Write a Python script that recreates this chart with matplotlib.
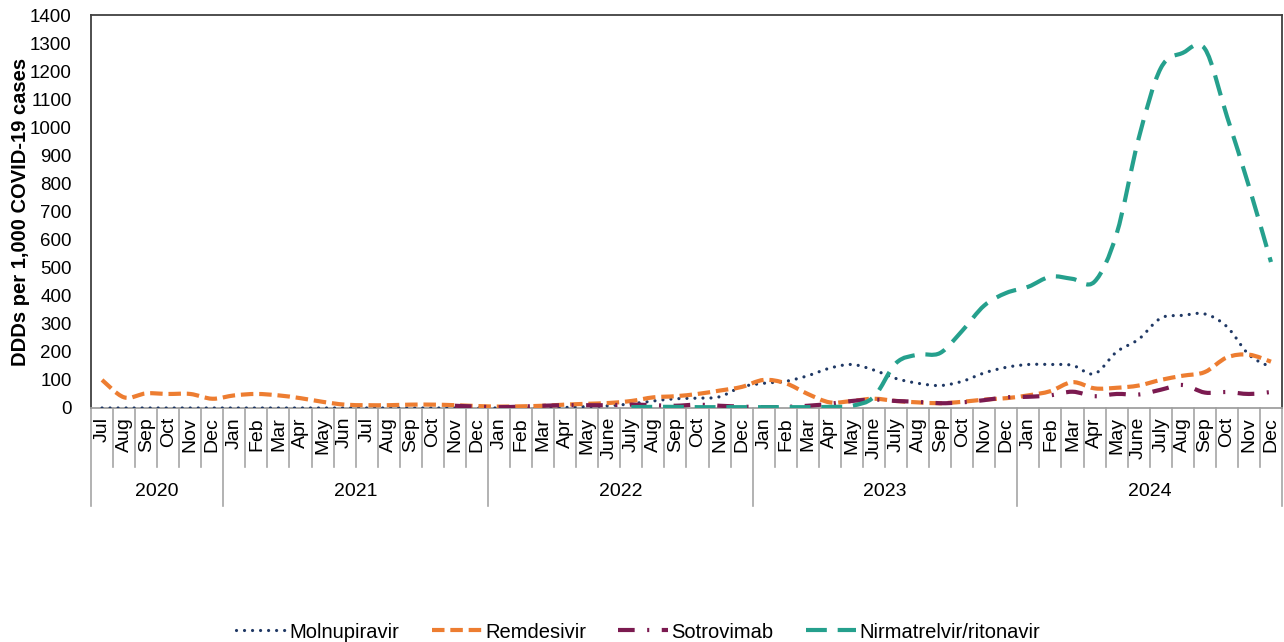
import numpy as np
import matplotlib
matplotlib.use('Agg')
import matplotlib.pyplot as plt
from matplotlib.path import Path
from matplotlib.patches import PathPatch
from matplotlib.lines import Line2D
import matplotlib.transforms as mtransforms

plt.rcParams['font.family'] = ['Liberation Sans', 'DejaVu Sans']

nan = np.nan

months = (['Jul', 'Aug', 'Sep', 'Oct', 'Nov', 'Dec'] +
          ['Jan', 'Feb', 'Mar', 'Apr', 'May', 'Jun', 'Jul', 'Aug', 'Sep', 'Oct', 'Nov', 'Dec'] +
          ['Jan', 'Feb', 'Mar', 'Apr', 'May', 'June', 'July', 'Aug', 'Sep', 'Oct', 'Nov', 'Dec'] +
          ['Jan', 'Feb', 'Mar', 'Apr', 'May', 'June', 'July', 'Aug', 'Sep', 'Oct', 'Nov', 'Dec'] +
          ['Jan', 'Feb', 'Mar', 'Apr', 'May', 'June', 'July', 'Aug', 'Sep', 'Oct', 'Nov', 'Dec'])
years = ['2020', '2021', '2022', '2023', '2024']
months_per_year = [6, 12, 12, 12, 12]

molnupiravir = ([0, 0, 0, 0, 0, 0] +
                [0, 0, 0, 0, 0, 0, 0, 0, 0, 0, 0, 0] +
                [0, 0, 0, 2, 5, 8, 15, 25, 33, 35, 40, 75] +
                [88, 95, 115, 142, 155, 135, 105, 88, 80, 95, 125, 145] +
                [155, 155, 152, 122, 200, 245, 320, 330, 335, 290, 190, 145])
remdesivir = ([100, 38, 52, 50, 50, 33] +
              [45, 50, 45, 35, 22, 12, 10, 10, 12, 12, 10, 7] +
              [5, 6, 8, 12, 15, 18, 25, 38, 42, 50, 62, 75] +
              [100, 88, 50, 20, 25, 33, 25, 20, 17, 22, 30, 35] +
              [45, 60, 92, 70, 72, 80, 100, 115, 128, 180, 190, 165])
sotrovimab = ([nan, nan, nan, nan, nan, nan] +
              [nan, nan, nan, nan, nan, nan, nan, nan, nan, nan, 8, 5] +
              [3, 5, 8, 10, 10, 10, 12, 10, 8, 12, 8, 5] +
              [3, 4, 8, 15, 25, 30, 25, 22, 17, 20, 28, 38] +
              [40, 45, 58, 42, 50, 48, 65, 82, 55, 57, 50, 57])
nirmatrelvir = ([nan, nan, nan, nan, nan, nan] +
                [nan] * 12 +
                [nan, nan, nan, nan, nan, nan, 3, 4, 4, 3, 3, 3] +
                [3, 3, 3, 4, 8, 40, 160, 190, 196, 275, 365, 410] +
                [432, 468, 460, 450, 620, 960, 1210, 1265, 1280, 1040, 790, 520])

series_names = ['Molnupiravir', 'Remdesivir', 'Sotrovimab', 'Nirmatrelvir/ritonavir']
series_values = [molnupiravir, remdesivir, sotrovimab, nirmatrelvir]
styles = [
    dict(color='#1F3864', lw=2.3, ls=(0, (0.01, 2.5)), cap='round'),
    dict(color='#ED7D31', lw=3.0, ls=(0, (3.0, 1.4)), cap='butt'),
    dict(color='#7B1A50', lw=3.0, ls=(0, (4.0, 3.0, 0.5, 3.0)), cap='butt'),
    dict(color='#25A08D', lw=3.0, ls=(0, (5.0, 2.6)), cap='butt'),
]

W, H = 1284, 642
fig = plt.figure(figsize=(W / 100, H / 100), dpi=100)
ax_left, ax_right, ax_top, ax_bot = 91, 1282, 15, 408
ax = fig.add_axes([ax_left / W, 1 - ax_bot / H, (ax_right - ax_left) / W, (ax_bot - ax_top) / H])
ax_h = ax_bot - ax_top

x = np.arange(len(months))


def smooth_path(xs, ys):
    verts = [(xs[0], ys[0])]
    codes = [Path.MOVETO]
    n = len(xs)
    for k in range(n - 1):
        p0 = k - 1 if k > 0 else k
        p3 = k + 2 if k + 2 < n else k + 1
        c1 = (xs[k] + (xs[k + 1] - xs[p0]) / 6.0, ys[k] + (ys[k + 1] - ys[p0]) / 6.0)
        c2 = (xs[k + 1] - (xs[p3] - xs[k]) / 6.0, ys[k + 1] - (ys[p3] - ys[k]) / 6.0)
        verts += [c1, c2, (xs[k + 1], ys[k + 1])]
        codes += [Path.CURVE4] * 3
    return Path(verts, codes)


handles = []
for name, vals, st in zip(series_names, series_values, styles):
    v = np.array(vals, dtype=float)
    valid = ~np.isnan(v)
    idx = np.where(valid)[0]
    runs = np.split(idx, np.where(np.diff(idx) != 1)[0] + 1)
    for r in runs:
        if len(r) < 2:
            continue
        p = smooth_path(x[r].astype(float), v[r])
        patch = PathPatch(p, fill=False, edgecolor=st['color'], lw=st['lw'],
                          linestyle=st['ls'], capstyle=st['cap'], joinstyle='round', zorder=3)
        ax.add_patch(patch)
    handles.append(Line2D([], [], color=st['color'], lw=st['lw'], linestyle=st['ls'],
                          dash_capstyle=st['cap']))

ax.set_xlim(-0.5, len(months) - 0.5)
ax.set_ylim(0, 1400)
ax.set_yticks(np.arange(0, 1401, 100))
ax.tick_params(axis='y', length=0, pad=14, labelsize=13.5)
ax.set_xticks([])
for s in ['left', 'top', 'right']:
    ax.spines[s].set_color('#404040')
    ax.spines[s].set_linewidth(1.3)
ax.spines['bottom'].set_color('#A0A0A0')
ax.spines['bottom'].set_linewidth(1.3)

ax.set_ylabel('DDDs per 1,000 COVID-19 cases', fontsize=14.5, fontweight='bold')
ax.yaxis.set_label_coords((30 - ax_left) / (ax_right - ax_left), 0.5)

trans = mtransforms.blended_transform_factory(ax.transData, ax.transAxes)
for i, m in enumerate(months):
    ax.text(i, -9 / ax_h, m, rotation=90, ha='center', va='top', fontsize=14,
            transform=trans, color='#000000')

year_bounds = np.concatenate([[0], np.cumsum(months_per_year)])
for b in range(len(months) + 1):
    depth = 98 if b in year_bounds else 59
    ax.plot([b - 0.5, b - 0.5], [0, -depth / ax_h], color='#A6A6A6', lw=1.2,
            transform=trans, clip_on=False)
for yi, yr in enumerate(years):
    cx = (year_bounds[yi] + year_bounds[yi + 1]) / 2.0 - 0.5
    ax.text(cx, -(492 - ax_bot) / ax_h, yr, ha='center', va='center', fontsize=14,
            transform=trans)

fig.legend(handles, series_names, loc='center', bbox_to_anchor=(638 / W, 1 - 632 / H),
           ncol=4, frameon=False, fontsize=14.5, handlelength=2.5, columnspacing=1.6,
           handletextpad=0.15)

fig.savefig('out.png', dpi=100)
